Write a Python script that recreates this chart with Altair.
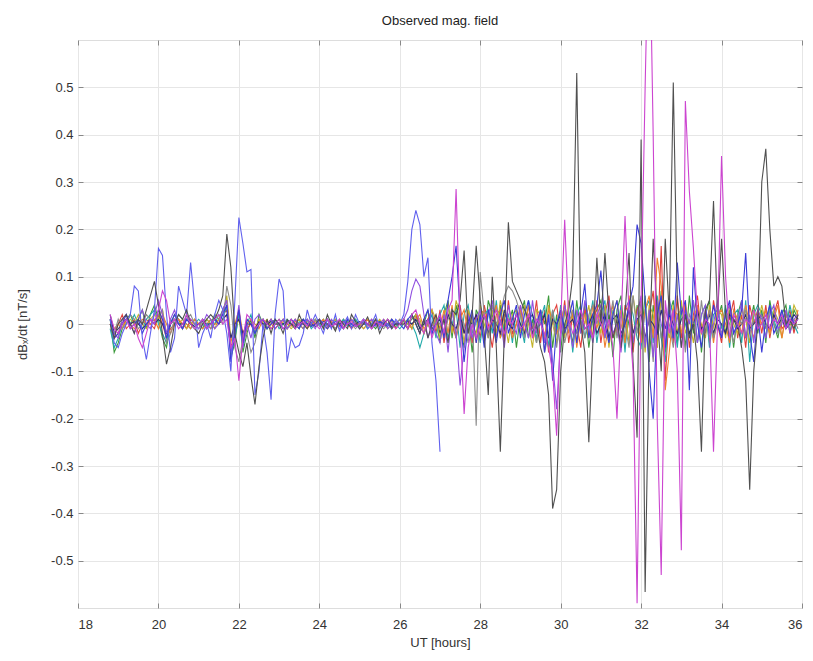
import altair as alt
import pandas as pd

# ---------------- data ----------------
# Each series: hour -> values sampled every 0.1 h (row 18 starts at 18.8 h)
X_TICKS = [18, 20, 22, 24, 26, 28, 30, 32, 34, 36]
Y_TICKS = [-0.5, -0.4, -0.3, -0.2, -0.1, 0.0, 0.1, 0.2, 0.3, 0.4, 0.5]

green = {
    18: [0.01, -0.06],
    19: [-0.04, -0.01, 0.01, 0.02, 0.0, 0.01, 0.03, -0.01, 0.02, 0.04],
    20: [0.01, -0.03, -0.05, 0.0, 0.02, 0.01, -0.01, 0.02, 0.0, 0.01],
    21: [0.0, -0.01, 0.01, 0.0, 0.02, 0.01, 0.03, 0.05, -0.07, -0.04],
    22: [0.03, -0.06, -0.02, 0.01, -0.03, 0.02, 0.0, -0.01, 0.01, 0.0],
    23: [0.01, 0.0, -0.01, 0.01, 0.0, -0.01, 0.01, 0.0, -0.005, 0.01],
    24: [0.0, 0.01, -0.005, 0.0, 0.01, 0.0, -0.01, 0.005, 0.0, 0.01],
    25: [-0.005, 0.0, 0.01, 0.0, -0.01, 0.005, 0.0, 0.01, 0.0, -0.005],
    26: [0.0, 0.005, 0.0, 0.01, 0.02, -0.01, 0.0, 0.03, -0.02, 0.01],
    27: [-0.04, 0.02, 0.05, -0.03, 0.04, 0.0, -0.05, 0.02, -0.06, 0.03],
    28: [0.01, -0.04, 0.05, 0.02, -0.03, 0.04, -0.02, 0.0, 0.03, -0.05],
    29: [0.02, 0.05, -0.03, 0.01, -0.04, 0.03, 0.0, 0.06, -0.05, 0.02],
    30: [-0.06, 0.03, 0.0, -0.04, 0.05, -0.02, 0.04, -0.05, 0.01, 0.03],
    31: [0.05, -0.03, 0.02, -0.07, 0.03, 0.06, -0.04, 0.01, -0.05, 0.04],
    32: [-0.03, 0.06, -0.08, 0.04, -0.02, 0.07, -0.06, 0.02, 0.05, -0.04],
    33: [0.03, -0.05, 0.06, -0.02, 0.04, -0.06, 0.02, 0.05, -0.03, 0.01],
    34: [0.04, -0.02, 0.03, -0.05, 0.02, 0.05, -0.03, 0.0, 0.04, -0.02],
    35: [0.03, -0.04, 0.05, 0.0, -0.03, 0.02, 0.04, -0.02, 0.03, 0.01],
}

red = {
    18: [0.0, -0.02],
    19: [0.0, 0.02, -0.01, 0.0, 0.01, -0.02, 0.0, 0.01, 0.0, -0.01],
    20: [0.02, 0.0, -0.03, -0.01, 0.0, 0.01, 0.0, -0.01, 0.01, 0.0],
    21: [0.0, 0.01, 0.0, -0.01, 0.0, 0.01, 0.02, 0.03, -0.05, -0.02],
    22: [0.02, -0.04, -0.01, 0.0, -0.02, 0.01, 0.0, 0.0, 0.01, -0.01],
    23: [0.0, 0.01, -0.01, 0.0, 0.005, 0.0, -0.01, 0.01, 0.0, 0.0],
    24: [0.01, 0.0, -0.01, 0.005, 0.0, -0.005, 0.01, 0.0, -0.01, 0.0],
    25: [0.0, -0.01, 0.0, 0.01, 0.0, -0.005, 0.005, 0.0, 0.01, -0.01],
    26: [0.0, 0.0, 0.01, -0.01, 0.02, 0.0, -0.02, 0.01, 0.03, -0.02],
    27: [0.03, -0.04, 0.02, 0.0, -0.03, 0.04, -0.02, 0.03, -0.04, 0.02],
    28: [-0.03, 0.04, 0.0, -0.05, 0.02, 0.03, -0.04, 0.05, -0.02, 0.0],
    29: [0.04, -0.03, 0.02, -0.01, 0.05, -0.04, 0.03, -0.06, 0.02, 0.04],
    30: [-0.02, 0.05, -0.04, 0.02, 0.0, -0.05, 0.03, 0.01, -0.03, 0.05],
    31: [-0.04, 0.02, 0.06, -0.03, 0.0, -0.05, 0.04, 0.02, -0.06, 0.03],
    32: [0.05, -0.04, 0.02, 0.07, -0.05, 0.165, -0.12, 0.03, -0.04, 0.06],
    33: [-0.03, 0.04, -0.05, 0.02, 0.06, -0.02, 0.03, -0.04, 0.05, 0.0],
    34: [-0.04, 0.03, 0.01, 0.05, -0.03, 0.02, -0.05, 0.04, 0.0, 0.03],
    35: [-0.02, 0.04, -0.03, 0.02, 0.05, -0.01, 0.0, 0.03, -0.02, 0.02],
}

cyan = {
    18: [-0.01, -0.05],
    19: [-0.03, 0.0, 0.01, 0.0, 0.02, 0.0, -0.01, 0.01, 0.02, 0.03],
    20: [0.0, -0.02, -0.04, 0.01, 0.0, 0.02, 0.01, 0.0, -0.01, 0.0],
    21: [0.01, 0.0, -0.01, 0.01, 0.0, 0.02, 0.01, 0.04, -0.06, -0.03],
    22: [0.02, -0.05, 0.0, 0.02, -0.02, 0.0, 0.01, -0.01, 0.0, 0.01],
    23: [-0.01, 0.0, 0.01, 0.0, -0.01, 0.005, 0.0, 0.01, -0.01, 0.0],
    24: [0.0, -0.005, 0.01, 0.0, -0.01, 0.0, 0.01, -0.005, 0.0, 0.01],
    25: [0.0, 0.005, -0.01, 0.0, 0.01, 0.0, -0.005, 0.0, 0.01, 0.0],
    26: [-0.01, 0.0, 0.01, 0.0, -0.02, -0.05, -0.02, 0.0, 0.02, -0.03],
    27: [0.02, 0.04, -0.03, 0.0, 0.03, -0.05, 0.02, 0.04, -0.02, 0.01],
    28: [-0.04, 0.02, 0.03, -0.02, 0.05, -0.03, 0.0, 0.02, -0.04, 0.03],
    29: [0.0, -0.04, 0.05, 0.02, -0.03, 0.01, 0.04, -0.05, 0.03, -0.02],
    30: [0.04, -0.01, 0.03, -0.06, 0.02, 0.04, -0.03, 0.0, 0.05, -0.04],
    31: [0.02, 0.05, -0.04, 0.03, -0.02, 0.04, -0.06, 0.05, 0.02, -0.03],
    32: [-0.05, 0.03, 0.05, -0.04, 0.06, -0.03, -0.08, 0.05, 0.02, -0.05],
    33: [0.04, 0.0, -0.03, 0.05, -0.04, 0.02, 0.04, -0.05, 0.02, 0.03],
    34: [-0.01, 0.04, -0.05, 0.02, 0.03, -0.04, 0.05, -0.08, 0.02, 0.04],
    35: [0.02, -0.03, 0.04, 0.01, -0.02, 0.03, -0.01, 0.04, 0.0, -0.02],
}

olive = {
    18: [0.0, -0.03],
    19: [-0.02, 0.01, 0.0, 0.01, 0.0, 0.02, 0.0, -0.01, 0.01, 0.02],
    20: [0.01, 0.03, -0.02, 0.0, 0.01, 0.0, 0.01, -0.01, 0.0, 0.01],
    21: [0.0, 0.0, 0.01, 0.0, -0.01, 0.01, 0.02, 0.06, -0.03, -0.01],
    22: [0.01, -0.03, 0.01, 0.0, -0.01, 0.01, 0.0, 0.01, -0.01, 0.0],
    23: [0.0, 0.01, 0.0, -0.01, 0.0, 0.01, 0.0, -0.005, 0.005, 0.0],
    24: [0.005, 0.0, -0.01, 0.0, 0.01, 0.0, -0.005, 0.0, 0.01, 0.0],
    25: [0.0, -0.01, 0.0, 0.005, 0.0, 0.01, 0.0, -0.01, 0.0, 0.005],
    26: [0.0, 0.01, 0.0, -0.01, 0.02, 0.01, -0.02, 0.0, 0.03, 0.01],
    27: [-0.03, 0.02, 0.04, -0.02, 0.05, 0.02, -0.04, 0.03, 0.0, -0.02],
    28: [0.04, 0.0, -0.03, 0.03, -0.02, 0.05, 0.01, -0.04, 0.02, 0.03],
    29: [-0.02, 0.04, 0.0, -0.05, 0.03, 0.02, -0.03, 0.04, 0.0, -0.04],
    30: [0.03, -0.03, 0.05, 0.01, -0.04, 0.03, 0.0, 0.04, -0.03, 0.02],
    31: [-0.02, 0.04, -0.05, 0.02, 0.05, -0.01, 0.03, -0.04, 0.06, 0.0],
    32: [0.03, -0.06, 0.04, 0.02, -0.05, 0.06, 0.01, -0.03, 0.04, -0.02],
    33: [0.05, -0.02, 0.01, -0.04, 0.03, 0.0, -0.03, 0.04, -0.01, 0.03],
    34: [0.02, -0.03, 0.04, 0.0, -0.02, 0.03, 0.01, -0.04, 0.03, 0.0],
    35: [0.04, 0.0, -0.02, 0.03, 0.01, -0.03, 0.02, 0.0, 0.04, 0.02],
}

orange = {
    18: [0.01, -0.01],
    19: [0.0, -0.01, 0.01, 0.0, -0.01, 0.0, 0.01, 0.0, 0.0, 0.01],
    20: [-0.01, 0.02, 0.0, -0.02, 0.0, 0.01, 0.0, 0.0, -0.01, 0.01],
    21: [0.0, -0.01, 0.0, 0.01, 0.0, 0.0, 0.01, 0.02, -0.04, 0.0],
    22: [0.03, -0.02, 0.0, 0.01, 0.0, -0.01, 0.01, 0.0, 0.0, -0.01],
    23: [0.0, 0.005, 0.0, -0.005, 0.01, 0.0, 0.0, -0.01, 0.0, 0.005],
    24: [0.0, 0.01, 0.0, 0.0, -0.01, 0.005, 0.0, 0.0, 0.01, -0.005],
    25: [0.0, 0.0, 0.01, -0.01, 0.0, 0.0, 0.01, 0.0, -0.005, 0.0],
    26: [0.01, 0.0, -0.01, 0.0, 0.01, 0.02, -0.01, 0.0, -0.02, 0.02],
    27: [-0.01, 0.03, -0.02, 0.04, -0.03, 0.01, 0.03, -0.02, 0.02, -0.04],
    28: [0.02, 0.03, -0.02, 0.0, 0.04, -0.03, 0.02, 0.01, -0.03, 0.0],
    29: [0.03, -0.02, 0.04, -0.03, 0.0, 0.02, -0.04, 0.03, 0.01, -0.02],
    30: [0.0, 0.04, -0.02, 0.03, -0.05, 0.01, 0.02, -0.03, 0.04, -0.01],
    31: [0.03, -0.05, 0.0, 0.04, -0.02, 0.03, -0.04, 0.06, -0.02, 0.01],
    32: [-0.04, 0.03, 0.06, -0.03, 0.14, 0.08, -0.14, -0.06, 0.03, 0.02],
    33: [-0.02, 0.05, -0.03, 0.01, 0.04, -0.02, 0.0, 0.03, -0.04, 0.02],
    34: [0.03, 0.0, -0.04, 0.03, 0.01, -0.02, 0.04, 0.0, -0.03, 0.02],
    35: [0.0, 0.03, -0.02, 0.01, 0.04, -0.03, 0.02, 0.0, -0.01, 0.03],
}

navy = {
    18: [0.02, -0.02],
    19: [-0.01, 0.0, 0.01, 0.0, 0.005, 0.0, -0.01, 0.0, 0.01, 0.0],
    20: [0.01, 0.0, -0.02, 0.0, 0.01, 0.0, 0.0, 0.01, 0.0, -0.005],
    21: [0.0, 0.005, 0.0, 0.0, 0.01, 0.0, 0.01, 0.02, -0.03, 0.0],
    22: [0.01, -0.02, 0.0, 0.0, -0.01, 0.005, 0.0, 0.0, 0.005, 0.0],
    23: [0.0, 0.0, 0.005, 0.0, -0.005, 0.0, 0.01, 0.0, 0.0, -0.005],
    24: [0.0, 0.005, 0.0, -0.005, 0.0, 0.0, 0.005, 0.0, -0.005, 0.0],
    25: [0.005, 0.0, 0.0, -0.005, 0.0, 0.005, 0.0, 0.0, -0.005, 0.0],
    26: [0.0, 0.0, 0.005, 0.0, 0.01, -0.01, 0.0, 0.01, -0.01, 0.0],
    27: [0.01, -0.02, 0.02, 0.0, -0.01, 0.02, -0.02, 0.01, 0.0, 0.02],
    28: [-0.01, 0.02, -0.02, 0.01, 0.0, -0.02, 0.03, 0.0, -0.01, 0.02],
    29: [0.0, -0.02, 0.01, 0.02, -0.01, 0.0, 0.02, -0.03, 0.01, 0.0],
    30: [0.02, -0.01, 0.0, 0.01, -0.02, 0.03, -0.01, 0.0, 0.02, -0.02],
    31: [0.0, 0.02, -0.03, 0.01, 0.02, -0.02, 0.0, 0.03, -0.02, 0.01],
    32: [0.02, -0.03, 0.01, 0.0, -0.02, 0.03, -0.01, 0.02, 0.0, -0.02],
    33: [0.01, 0.02, -0.02, 0.0, 0.03, -0.01, 0.0, 0.02, -0.02, 0.01],
    34: [0.0, -0.02, 0.02, 0.01, -0.01, 0.0, 0.02, -0.01, 0.0, 0.01],
    35: [0.02, 0.0, -0.01, 0.02, 0.0, 0.01, -0.01, 0.0, 0.02, 0.01],
}

gray2 = {
    18: [-0.01, -0.02],
    19: [0.01, -0.01, 0.0, 0.02, 0.01, -0.01, 0.0, 0.02, 0.01, 0.0],
    20: [0.02, 0.03, -0.04, -0.02, 0.01, 0.0, -0.01, 0.01, 0.02, 0.0],
    21: [-0.01, 0.01, 0.0, -0.01, 0.02, 0.01, 0.0, 0.08, 0.04, -0.05],
    22: [-0.08, -0.03, -0.02, -0.06, -0.04, 0.0, 0.01, -0.01, 0.0, 0.01],
    23: [0.0, 0.01, -0.01, 0.0, 0.01, 0.0, -0.01, 0.005, 0.0, 0.01],
    24: [-0.005, 0.0, 0.01, 0.0, -0.01, 0.005, 0.0, 0.01, 0.0, -0.01],
    25: [0.0, 0.01, -0.005, 0.0, 0.01, 0.0, -0.01, 0.0, 0.005, 0.0],
    26: [0.01, 0.0, -0.01, 0.02, 0.0, -0.02, 0.01, 0.0, -0.02, 0.01],
    27: [0.0, -0.02, 0.01, 0.03, -0.03, 0.02, 0.0, -0.04, 0.03, -0.215],
    28: [0.11, 0.02, -0.03, 0.04, 0.0, 0.02, 0.06, 0.08, 0.07, 0.05],
    29: [0.02, -0.03, 0.01, 0.0, -0.04, 0.02, -0.06, -0.02, 0.03, -0.05],
    30: [0.02, -0.04, 0.0, 0.03, -0.02, 0.01, -0.03, 0.02, 0.04, 0.0],
    31: [0.03, -0.02, 0.0, 0.05, -0.03, 0.02, 0.0, -0.05, 0.06, -0.02],
    32: [0.05, -0.04, 0.02, -0.08, 0.04, -0.03, 0.03, 0.0, -0.05, 0.02],
    33: [0.03, -0.06, 0.02, 0.0, -0.04, 0.05, -0.02, 0.03, -0.03, 0.0],
    34: [-0.02, 0.03, 0.0, -0.04, 0.02, 0.0, 0.03, -0.02, 0.01, 0.0],
    35: [0.02, -0.01, 0.03, 0.0, -0.02, 0.01, 0.02, 0.0, 0.01, -0.01],
}

purple = {
    18: [0.0, -0.02],
    19: [-0.03, 0.01, 0.02, 0.0, -0.02, 0.01, 0.03, 0.0, -0.01, 0.02],
    20: [0.05, 0.02, -0.02, 0.01, 0.03, 0.0, -0.01, 0.02, 0.01, 0.0],
    21: [-0.01, 0.0, 0.02, 0.01, -0.01, 0.0, 0.03, 0.05, -0.06, -0.02],
    22: [0.04, -0.05, 0.0, -0.03, 0.01, 0.02, -0.01, 0.0, 0.01, -0.01],
    23: [0.0, 0.01, -0.01, 0.0, 0.01, -0.005, 0.0, 0.01, 0.0, -0.01],
    24: [0.01, 0.0, -0.005, 0.01, 0.0, -0.01, 0.005, 0.0, 0.01, 0.0],
    25: [-0.01, 0.005, 0.0, 0.01, -0.005, 0.0, 0.01, -0.01, 0.0, 0.005],
    26: [0.0, 0.01, 0.03, 0.07, 0.095, 0.08, 0.02, -0.03, 0.0, -0.02],
    27: [-0.04, 0.02, -0.06, 0.03, -0.02, -0.13, -0.05, 0.02, -0.03, 0.01],
    28: [0.03, -0.04, 0.02, 0.05, -0.03, 0.01, -0.05, 0.04, 0.0, -0.02],
    29: [0.04, 0.0, -0.03, 0.05, -0.02, 0.03, -0.04, 0.02, -0.08, -0.18],
    30: [-0.03, 0.04, 0.0, -0.05, 0.03, -0.02, 0.05, 0.0, -0.04, 0.02],
    31: [0.04, -0.03, 0.05, -0.02, 0.0, -0.06, 0.03, 0.05, -0.04, 0.02],
    32: [0.06, -0.05, 0.03, -0.07, 0.05, 0.0, -0.04, 0.06, -0.03, 0.02],
    33: [-0.05, 0.03, 0.0, 0.05, -0.04, 0.02, 0.04, -0.03, 0.0, 0.05],
    34: [-0.03, 0.02, 0.04, -0.02, 0.0, 0.05, -0.03, 0.02, -0.04, 0.03],
    35: [0.01, -0.03, 0.02, 0.04, -0.01, 0.0, 0.03, -0.02, 0.01, 0.02],
}

blue2 = {
    18: [0.01, -0.03],
    19: [-0.02, 0.0, 0.02, -0.01, 0.0, 0.01, -0.02, 0.0, 0.01, 0.0],
    20: [0.03, 0.01, -0.03, 0.0, 0.02, 0.0, -0.01, 0.01, 0.0, -0.01],
    21: [0.0, 0.01, -0.01, 0.0, 0.01, 0.0, 0.02, 0.04, -0.08, -0.02],
    22: [0.03, -0.04, 0.01, 0.0, -0.02, 0.0, 0.01, -0.01, 0.0, 0.01],
    23: [0.0, -0.01, 0.0, 0.01, 0.0, -0.01, 0.01, 0.0, -0.005, 0.0],
    24: [0.01, 0.0, -0.01, 0.0, 0.005, 0.0, -0.01, 0.01, 0.0, -0.005],
    25: [0.0, 0.01, 0.0, -0.01, 0.0, 0.005, 0.0, -0.005, 0.01, 0.0],
    26: [0.0, -0.01, 0.01, 0.02, 0.0, -0.02, 0.01, 0.03, -0.02, 0.0],
    27: [0.02, -0.03, 0.05, 0.10, 0.165, 0.02, -0.08, 0.0, 0.03, -0.04],
    28: [0.02, -0.05, 0.03, 0.0, -0.04, 0.02, 0.05, -0.02, 0.01, 0.04],
    29: [-0.03, 0.02, 0.05, -0.02, 0.0, 0.03, -0.06, 0.02, -0.12, 0.0],
    30: [0.03, -0.02, 0.01, 0.05, -0.04, 0.02, 0.085, -0.03, 0.02, 0.04],
    31: [0.113, 0.0, -0.04, 0.02, 0.05, -0.03, 0.0, 0.04, 0.08, 0.21],
    32: [0.17, 0.05, -0.10, -0.20, 0.02, 0.06, -0.05, 0.03, -0.03, 0.13],
    33: [0.02, 0.05, -0.14, 0.12, 0.0, -0.05, 0.03, -0.02, 0.04, 0.0],
    34: [-0.03, 0.02, 0.05, -0.02, 0.0, 0.03, 0.15, -0.02, -0.08, 0.02],
    35: [-0.06, 0.01, 0.04, -0.02, 0.0, 0.03, -0.01, 0.02, 0.0, 0.01],
}

blue1 = {
    18: [0.01, -0.04],
    19: [-0.05, -0.02, 0.0, 0.02, 0.08, 0.07, -0.03, -0.075, -0.02, 0.03],
    20: [0.16, 0.145, 0.02, -0.06, -0.03, 0.08, 0.05, 0.02, 0.13, 0.04],
    21: [-0.05, -0.02, 0.0, -0.03, 0.02, 0.05, 0.03, -0.02, -0.10, 0.05],
    22: [0.225, 0.17, 0.11, 0.115, -0.15, -0.10, 0.0, -0.06, -0.16, 0.02],
    23: [0.095, 0.07, -0.08, -0.03, -0.05, -0.045, -0.02, 0.03, 0.0, 0.02],
    24: [0.0, -0.02, 0.01, -0.01, 0.02, -0.015, 0.0, 0.015, -0.01, 0.02],
    25: [0.0, 0.01, -0.01, 0.0, 0.02, -0.01, 0.005, 0.0, -0.01, 0.01],
    26: [0.0, 0.02, 0.09, 0.20, 0.24, 0.21, 0.10, 0.14, -0.04, -0.12],
    27: [-0.27],
}

gray1 = {
    18: [0.0, -0.03],
    19: [0.0, 0.01, 0.02, 0.0, -0.02, 0.01, 0.0, 0.03, 0.06, 0.09],
    20: [0.04, -0.02, -0.085, -0.05, 0.0, 0.02, 0.01, 0.03, 0.0, -0.01],
    21: [-0.02, 0.0, 0.01, 0.02, 0.01, 0.03, 0.06, 0.19, 0.12, -0.02],
    22: [-0.06, -0.09, -0.04, -0.11, -0.17, -0.09, -0.03, 0.01, -0.02, 0.01],
    23: [0.0, -0.02, 0.01, 0.0, -0.01, 0.02, 0.0, -0.01, 0.01, 0.0],
    24: [0.01, -0.01, 0.02, 0.0, -0.015, 0.01, 0.0, -0.01, 0.02, 0.005],
    25: [-0.01, 0.0, 0.015, -0.005, 0.01, -0.02, 0.0, 0.01, -0.01, 0.0],
    26: [0.0, 0.01, -0.01, 0.02, 0.0, -0.02, 0.01, -0.03, 0.0, 0.02],
    27: [-0.02, 0.01, -0.04, 0.03, 0.02, 0.05, 0.155, -0.02, 0.02, 0.165],
    28: [0.05, -0.02, -0.15, 0.10, -0.05, -0.27, -0.02, 0.215, 0.09, 0.07],
    29: [0.05, 0.03, 0.01, -0.02, 0.0, -0.05, -0.08, -0.15, -0.39, -0.35],
    30: [-0.10, 0.0, 0.03, 0.10, 0.53, 0.0, -0.06, -0.25, -0.04, 0.14],
    31: [0.0, 0.15, 0.02, -0.03, 0.01, -0.05, 0.02, 0.15, -0.08, -0.24],
    32: [0.39, -0.566, -0.05, 0.18, 0.02, -0.10, 0.18, 0.02, 0.51, 0.05],
    33: [-0.05, 0.02, -0.03, 0.0, -0.08, -0.27, 0.03, 0.05, 0.26, 0.02],
    34: [0.18, 0.02, -0.03, 0.01, 0.0, -0.05, -0.12, -0.35, -0.10, 0.0],
    35: [0.30, 0.37, 0.20, 0.08, 0.10, 0.08, 0.0, 0.01, -0.01, 0.02],
}

magenta = {
    18: [0.02, -0.01],
    19: [-0.02, 0.0, 0.01, -0.01, 0.0, -0.03, -0.05, -0.02, 0.01, 0.0],
    20: [0.03, 0.07, 0.05, 0.0, 0.01, -0.01, 0.0, 0.02, 0.0, -0.01],
    21: [0.0, 0.01, -0.01, 0.0, 0.01, 0.02, 0.0, 0.01, -0.05, -0.03],
    22: [-0.12, -0.03, 0.02, 0.01, -0.01, 0.0, 0.01, 0.0, -0.01, 0.0],
    23: [0.01, -0.01, 0.0, 0.01, -0.01, 0.0, 0.005, -0.005, 0.01, 0.0],
    24: [-0.01, 0.0, 0.01, -0.005, 0.0, 0.01, -0.01, 0.0, 0.005, -0.005],
    25: [0.0, 0.01, 0.0, -0.01, 0.005, 0.0, -0.005, 0.01, 0.0, -0.01],
    26: [0.0, 0.01, -0.01, 0.02, 0.03, 0.0, -0.02, 0.01, -0.03, 0.0],
    27: [0.02, -0.02, 0.03, 0.05, 0.285, 0.0, -0.19, -0.05, 0.0, -0.03],
    28: [0.0, 0.02, -0.01, 0.01, 0.03, 0.0, -0.02, 0.01, 0.0, 0.02],
    29: [-0.01, 0.0, 0.02, -0.03, 0.01, 0.0, -0.02, -0.05, -0.10, -0.236],
    30: [0.0, 0.22, 0.01, -0.02, 0.0, 0.03, -0.01, 0.0, -0.03, 0.02],
    31: [0.0, -0.02, 0.01, -0.05, -0.20, 0.0, 0.228, 0.02, -0.10, -0.59],
    32: [0.05, 0.50, 0.90, 0.40, -0.20, -0.53, 0.05, -0.02, 0.03, -0.10],
    33: [-0.478, 0.471, 0.28, 0.16, 0.02, -0.02, 0.01, 0.0, -0.27, 0.0],
    34: [0.355, 0.10, -0.03, 0.02, 0.0, -0.02, 0.01, 0.0, 0.03, -0.01],
    35: [0.0, 0.02, -0.01, 0.01, 0.0, 0.02, -0.01, 0.01, 0.0, 0.01],
}

# drawing order (back to front) and colours
SERIES = [
    ("green", green, "#3c9a3c"),
    ("red", red, "#e0403c"),
    ("cyan", cyan, "#22aaaa"),
    ("olive", olive, "#c2b42a"),
    ("orange", orange, "#ee8030"),
    ("navy", navy, "#2a2a70"),
    ("gray2", gray2, "#8c8c8c"),
    ("purple", purple, "#9050e0"),
    ("blue2", blue2, "#3a3ad8"),
    ("blue1", blue1, "#6060ee"),
    ("gray1", gray1, "#505050"),
    ("magenta", magenta, "#cc44d0"),
]


def expand(rows):
    ts, vs = [], []
    for hour, vals in rows.items():
        start = 18.8 if hour == 18 else float(hour)
        for j, v in enumerate(vals):
            ts.append(round(start + 0.1 * j, 2))
            vs.append(v)
    return pd.DataFrame({"t": ts, "v": vs})


FONT = "Liberation Sans"
W, H = 724, 568

x_scale = alt.Scale(domain=[18, 36], nice=False, zero=False)
y_scale = alt.Scale(domain=[-0.6, 0.6], nice=False, zero=False)

x_main = alt.X(
    "t:Q", scale=x_scale,
    axis=alt.Axis(values=X_TICKS, title="UT [hours]", grid=True, gridColor="#e6e6e6",
                  ticks=False, tickSize=0, domain=False, labelPadding=10,
                  labelFontSize=13, labelColor="#333333", labelFont=FONT,
                  titleFontSize=13, titleFontWeight="normal", titleColor="#333333",
                  titleFont=FONT, titleX=W / 2, titleY=34, titleBaseline="middle"),
)
y_main = alt.Y(
    "v:Q", scale=y_scale,
    axis=alt.Axis(values=Y_TICKS, title="dBₓ/dt [nT/s]", grid=True, gridColor="#e6e6e6",
                  ticks=False, tickSize=0, domain=False, labelPadding=5,
                  labelExpr="datum.value == 0 ? '0' : replace(format(datum.value, '.1f'), '\u2212', '-')",
                  labelFontSize=13, labelColor="#333333", labelFont=FONT,
                  titleFontSize=13, titleFontWeight="normal", titleColor="#333333",
                  titleFont=FONT, titleX=-56, titleY=H / 2, titleBaseline="middle"),
)

line_layers = []
for name, rows, color in SERIES:
    df = expand(rows)
    line_layers.append(
        alt.Chart(df).mark_line(color=color, strokeWidth=1.1, clip=True).encode(x=x_main, y=y_main)
    )
lines = alt.layer(*line_layers)

dummy = pd.DataFrame({"t": [18.0], "v": [0.0]})


def tick_layer(xorient, yorient):
    ax = dict(labels=False, title="", grid=False, domain=False, ticks=True, tickSize=5,
              tickColor="#888888", offset=-5)
    return alt.Chart(dummy).mark_point(opacity=0).encode(
        x=alt.X("t:Q", scale=x_scale, axis=alt.Axis(orient=xorient, values=X_TICKS, **ax)),
        y=alt.Y("v:Q", scale=y_scale, axis=alt.Axis(orient=yorient, values=Y_TICKS, **ax)),
    )


chart = (
    alt.layer(lines, tick_layer("top", "right"), tick_layer("bottom", "left"))
    .resolve_axis(x="independent", y="independent")
    .properties(
        width=W, height=H,
        title=alt.TitleParams("Observed mag. field", fontSize=13, fontWeight="normal",
                              font=FONT, color="#222222", anchor="middle", frame="group",
                              offset=12),
        autosize=alt.AutoSizeParams(type="none"),
        padding={"left": 70, "top": 32, "right": 3, "bottom": 45},
    )
    .configure_view(stroke="#888888", strokeWidth=1)
    .configure(background="white")
)

chart.save("out.html", embed_options={"renderer": "svg", "actions": False})
